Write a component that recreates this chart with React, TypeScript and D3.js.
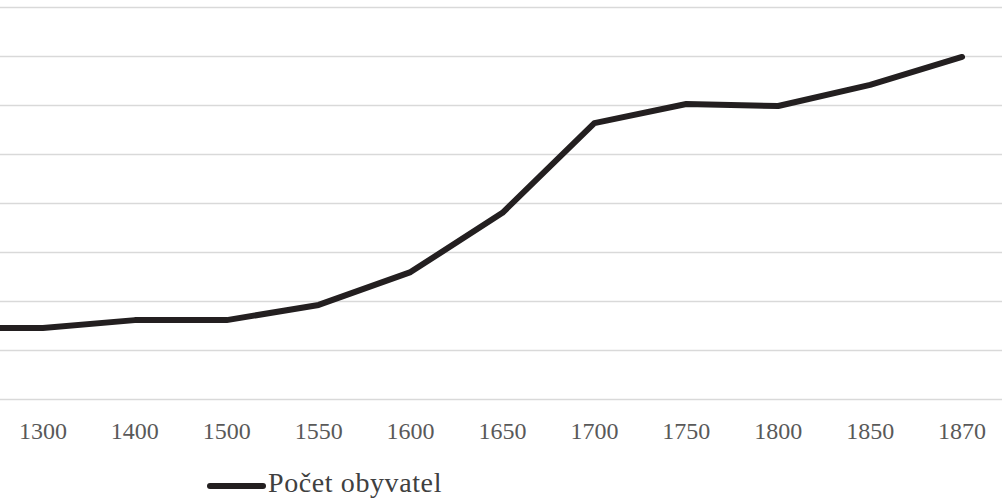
import React, { useEffect, useRef } from 'react';
import * as d3 from 'd3';

// first category sits off the left edge of the picture (its label is cut off)
const years = ['1200', '1300', '1400', '1500', '1550', '1600', '1650', '1700', '1750', '1800', '1850', '1870'];
const population = [1.46, 1.46, 1.62, 1.62, 1.93, 2.6, 3.81, 5.64, 6.03, 5.99, 6.42, 6.99];
const gridValues = [0, 1, 2, 3, 4, 5, 6, 7, 8];
const seriesName = 'Počet obyvatel';

export default function App() {
  const ref = useRef<SVGSVGElement>(null);

  useEffect(() => {
    document.body.style.margin = '0';
    const width = 1002;
    const height = 503;
    const svg = d3.select(ref.current).attr('width', width).attr('height', height);
    svg.selectAll('*').remove();

    const x = d3.scaleBand().domain(years).range([-95, 1008]);
    const y = d3.scaleLinear().domain([0, 8]).range([399.5, 7.5]);
    const cx = (d: string) => (x(d) as number) + x.bandwidth() / 2;

    svg.append('g')
      .selectAll('line')
      .data(gridValues)
      .enter()
      .append('line')
      .attr('x1', 0)
      .attr('x2', width)
      .attr('y1', d => y(d))
      .attr('y2', d => y(d))
      .attr('stroke', '#d9d9d9')
      .attr('stroke-width', 1.5);

    const line = d3.line<number>()
      .x((d, i) => cx(years[i]))
      .y(d => y(d));

    svg.append('path')
      .datum(population)
      .attr('d', line)
      .attr('fill', 'none')
      .attr('stroke', '#231f20')
      .attr('stroke-width', 6)
      .attr('stroke-linejoin', 'round')
      .attr('stroke-linecap', 'round');

    // only labels whose category centre is inside the picture
    svg.append('g')
      .selectAll('text')
      .data(years.filter(d => cx(d) > 0))
      .enter()
      .append('text')
      .attr('x', d => cx(d))
      .attr('y', 439)
      .attr('text-anchor', 'middle')
      .attr('font-family', 'Liberation Serif')
      .attr('font-size', 24)
      .attr('fill', '#595959')
      .text(d => d);

    const legend = svg.append('g');
    legend.append('line')
      .attr('x1', 210)
      .attr('x2', 263)
      .attr('y1', 486)
      .attr('y2', 486)
      .attr('stroke', '#231f20')
      .attr('stroke-width', 6)
      .attr('stroke-linecap', 'round');
    legend.append('text')
      .attr('x', 268)
      .attr('y', 492)
      .attr('font-family', 'Liberation Serif')
      .attr('font-size', 28)
      .attr('letter-spacing', 0.6)
      .attr('fill', '#404040')
      .text(seriesName);
  });

  return <svg ref={ref} style={{ display: 'block' }} />;
}
